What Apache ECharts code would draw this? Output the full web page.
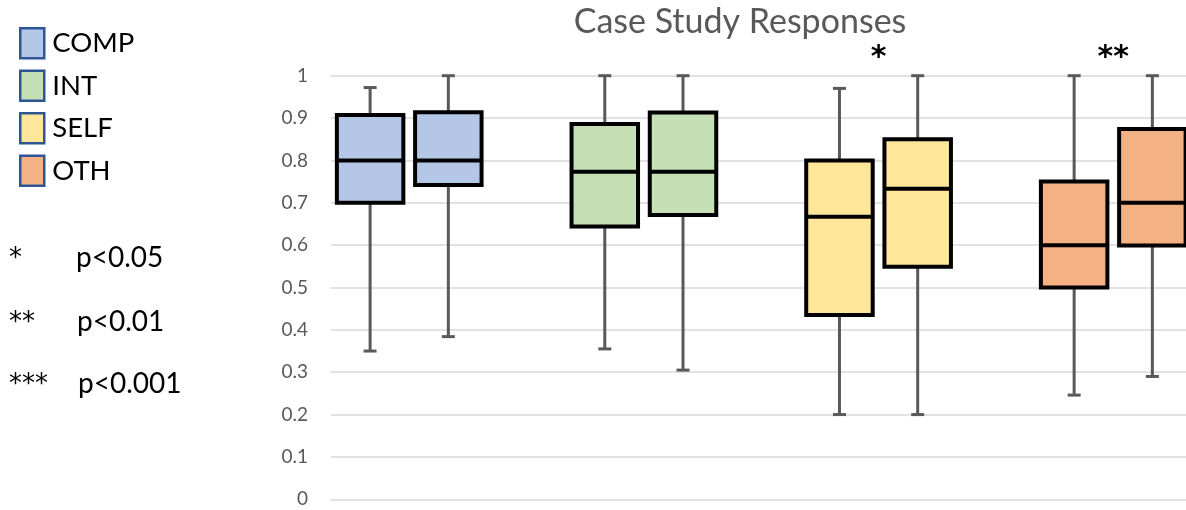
<!DOCTYPE html>
<html>
<head>
<meta charset="utf-8">
<script src="https://cdn.jsdelivr.net/npm/echarts@6/dist/echarts.min.js"></script>
<style>
  html, body { margin: 0; padding: 0; background: #fff; }
  #chart { width: 1186px; height: 510px; }
</style>
</head>
<body>
<div id="chart"></div>
<script>
// data (two boxes per group, third slot of each group is empty)
var groups = ['COMP', 'INT', 'SELF', 'OTH'];
var groupColors = ['#b4c7e7', '#c5e0b4', '#ffe699', '#f4b183'];
var whiskerLow = [[0.35, 0.384], [0.355, 0.305], [0.20, 0.20], [0.246, 0.29]];
var quartile1 = [[0.70, 0.742], [0.644, 0.671], [0.435, 0.549], [0.50, 0.599]];
var medians = [[0.80, 0.80], [0.773, 0.773], [0.667, 0.733], [0.60, 0.70]];
var quartile3 = [[0.907, 0.914], [0.886, 0.913], [0.80, 0.85], [0.75, 0.874]];
var whiskerHigh = [[0.972, 1.0], [1.0, 1.0], [0.97, 1.0], [1.0, 1.0]];
var significance = ['', '', '*', '**'];
var pLegend = [['*', 'p<0.05'], ['**', 'p<0.01'], ['***', 'p<0.001']];

var FONT = 'Lato, "Open Sans", sans-serif';
var STAR_FONT = '"DejaVu Sans", sans-serif';

function renderBox(params, api) {
  var x = api.value(0);
  var pLow = api.coord([x, api.value(1)]);
  var pQ1 = api.coord([x, api.value(2)]);
  var pMed = api.coord([x, api.value(3)]);
  var pQ3 = api.coord([x, api.value(4)]);
  var pHigh = api.coord([x, api.value(5)]);
  var band = api.size([1, 0])[0];
  var half = band * 0.425;
  var cap = 6.5;
  var cx = pLow[0];
  var whisker = { stroke: '#595959', lineWidth: 3 };
  var children = [
    { type: 'line', shape: { x1: cx, y1: pQ1[1], x2: cx, y2: pLow[1] }, style: whisker },
    { type: 'line', shape: { x1: cx - cap, y1: pLow[1], x2: cx + cap, y2: pLow[1] }, style: whisker },
    { type: 'line', shape: { x1: cx, y1: pQ3[1], x2: cx, y2: pHigh[1] }, style: whisker },
    { type: 'line', shape: { x1: cx - cap, y1: pHigh[1], x2: cx + cap, y2: pHigh[1] }, style: whisker },
    { type: 'rect', shape: { x: cx - half, y: pQ3[1], width: half * 2, height: pQ1[1] - pQ3[1] },
      style: { fill: api.visual('color'), stroke: '#000', lineWidth: 4 } },
    { type: 'line', shape: { x1: cx - half, y1: pMed[1], x2: cx + half, y2: pMed[1] },
      style: { stroke: '#000', lineWidth: 4 } }
  ];
  var sig = significance[api.value(6)];
  if (params.dataIndex === 1 && sig) {
    var top = api.coord([x, 1]);
    children.push({
      type: 'text',
      style: { text: sig, x: cx - band / 2, y: top[1] - 17, align: 'center', verticalAlign: 'middle',
        font: 'bold 30px ' + STAR_FONT, fill: '#000' }
    });
  }
  return { type: 'group', children: children };
}

// slot positions: group gi uses slots 3*gi and 3*gi + 1
var series = groups.map(function (g, gi) {
  var rows = [0, 1].map(function (k) {
    return [gi * 3 + k, whiskerLow[gi][k], quartile1[gi][k], medians[gi][k],
      quartile3[gi][k], whiskerHigh[gi][k], gi];
  });
  return {
    name: g,
    type: 'custom',
    renderItem: renderBox,
    itemStyle: { color: groupColors[gi] },
    encode: { x: 0, y: [1, 2, 3, 4, 5] },
    clip: false,
    data: rows
  };
});

var graphics = [];
pLegend.forEach(function (row, i) {
  var y = [261, 325, 387][i];
  graphics.push({ type: 'text', left: 9, top: y - 15,
    style: { text: row[0], font: '26px ' + STAR_FONT, fill: '#000' } });
  graphics.push({ type: 'text', left: 76 + i, top: y - 17,
    style: { text: row[1], font: '28px ' + FONT, fill: '#000' } });
});

var chart = echarts.init(document.getElementById('chart'));
chart.setOption({
  animation: false,
  title: {
    text: 'Case Study Responses',
    left: 735, top: 0, textAlign: 'center',
    textStyle: { fontFamily: FONT, fontSize: 34, fontWeight: 'normal', color: '#595959' }
  },
  legend: {
    orient: 'vertical', left: 19, top: 27, padding: 0, icon: 'rect',
    itemWidth: 24, itemHeight: 30, itemGap: 10,
    textStyle: { fontFamily: FONT, fontSize: 27.5, color: '#000', padding: [0, 0, 0, 3] },
    data: groups.map(function (g, gi) {
      return { name: g, itemStyle: { color: groupColors[gi], borderColor: '#2f5597', borderWidth: 2.5 } };
    })
  },
  grid: { left: 331, top: 75.7, bottom: 10.7, right: 0 },
  xAxis: {
    type: 'value', min: -0.5, max: 10.43,
    axisLine: { show: false }, axisTick: { show: false }, axisLabel: { show: false },
    splitLine: { show: false }
  },
  yAxis: {
    type: 'value', min: 0, max: 1, interval: 0.1,
    axisLine: { show: false }, axisTick: { show: false },
    axisLabel: { fontFamily: FONT, fontSize: 19, color: '#595959', margin: 23 },
    splitLine: { lineStyle: { color: '#d9d9d9', width: 1.5 } }
  },
  graphic: graphics,
  series: series
});
</script>
</body>
</html>
